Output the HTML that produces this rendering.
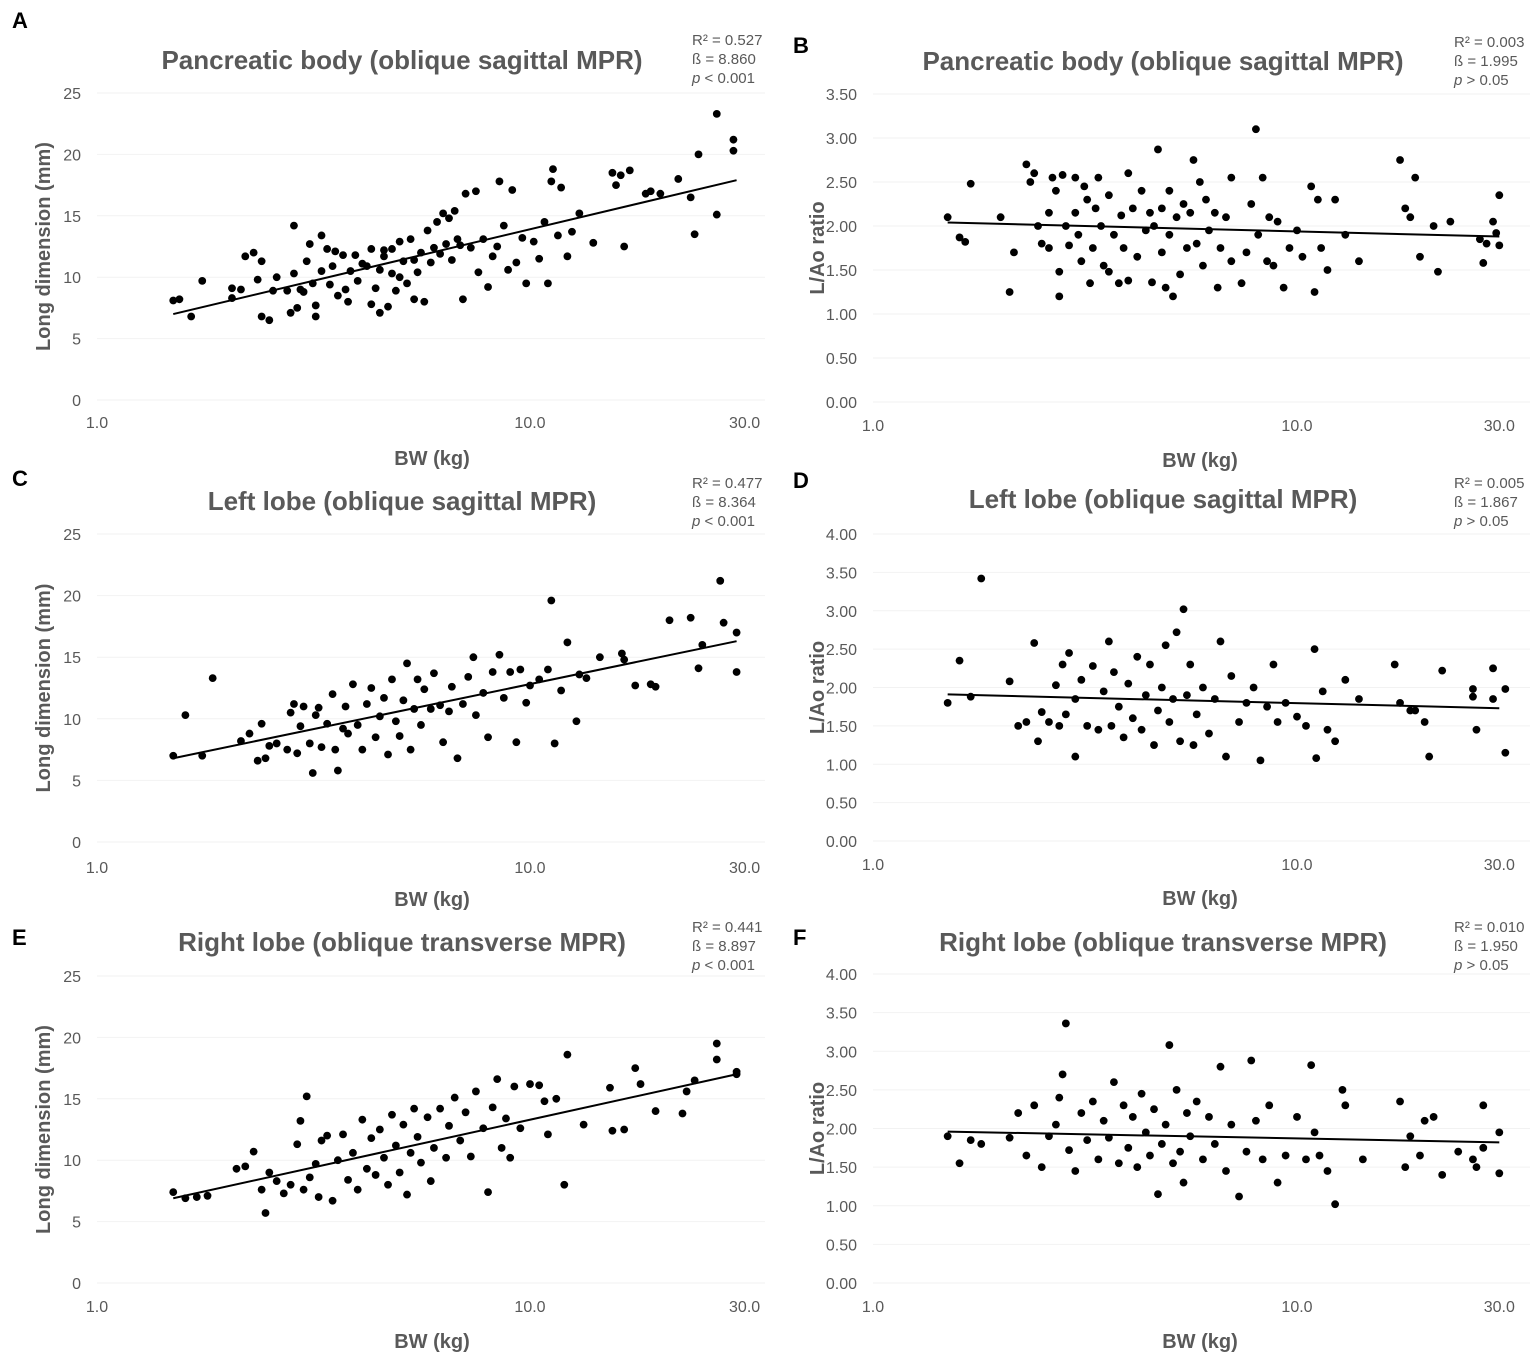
<!DOCTYPE html>
<html><head><meta charset="utf-8">
<style>
body{margin:0;background:#fff;}
svg{display:block;font-family:"Liberation Sans","Noto Sans CJK KR",sans-serif;}
</style></head>
<body>
<svg id="chart" width="1535" height="1359" viewBox="0 0 1535 1359" xmlns="http://www.w3.org/2000/svg"></svg>
<script>
const xTickValues=[1,10,30];
const xTickLabels=["1.0","10.0","30.0"];
const yTicksMM=[0,5,10,15,20,25];
const yTicksA=[0,0.5,1,1.5,2,2.5,3,3.5];
const yTicksB=[0,0.5,1,1.5,2,2.5,3,3.5,4];
const titles=["Pancreatic body (oblique sagittal MPR)","Pancreatic body (oblique sagittal MPR)","Left lobe (oblique sagittal MPR)","Left lobe (oblique sagittal MPR)","Right lobe (oblique transverse MPR)","Right lobe (oblique transverse MPR)"];
const statR2=["0.527","0.003","0.477","0.005","0.441","0.010"];
const statB=["8.860","1.995","8.364","1.867","8.897","1.950"];
const statP=["< 0.001","> 0.05","< 0.001","> 0.05","< 0.001","> 0.05"];
const trendStart=[7.0,2.04,6.8,1.91,6.9,1.96];
const trendEnd=[17.9,1.88,16.3,1.73,17.0,1.82];
const dataA=[[1.5,8.1],[1.55,8.2],[1.65,6.8],[1.75,9.7],[2.05,8.3],[2.05,9.1],[2.15,9],[2.2,11.7],[2.3,12],[2.35,9.8],[2.4,11.3],[2.4,6.8],[2.5,6.5],[2.55,8.9],[2.6,10],[2.75,8.9],[2.8,7.1],[2.85,14.2],[2.85,10.3],[2.9,7.5],[2.95,9],[3.0,8.8],[3.05,11.3],[3.1,12.7],[3.15,9.5],[3.2,7.7],[3.2,6.8],[3.3,13.4],[3.3,10.5],[3.4,12.3],[3.45,9.4],[3.5,10.9],[3.55,12.1],[3.6,8.5],[3.7,11.8],[3.75,9],[3.8,8],[3.85,10.5],[3.95,11.8],[4.0,9.7],[4.1,11.1],[4.2,10.9],[4.3,12.3],[4.3,7.8],[4.4,9.1],[4.5,7.1],[4.5,10.6],[4.6,11.7],[4.6,12.2],[4.7,7.6],[4.8,12.3],[4.8,10.3],[4.9,8.9],[5.0,12.9],[5.0,10],[5.1,11.3],[5.2,9.5],[5.3,13.1],[5.4,8.2],[5.4,11.4],[5.5,10.4],[5.6,12],[5.7,8],[5.8,13.8],[5.9,11.2],[6.0,12.4],[6.1,14.5],[6.2,11.9],[6.3,15.2],[6.4,12.7],[6.5,14.8],[6.6,11.4],[6.7,15.4],[6.8,13.1],[6.9,12.6],[7.0,8.2],[7.1,16.8],[7.3,12.4],[7.5,17.0],[7.6,10.4],[7.8,13.1],[8.0,9.2],[8.2,11.7],[8.4,12.5],[8.5,17.8],[8.7,14.2],[8.9,10.6],[9.1,17.1],[9.3,11.2],[9.6,13.2],[9.8,9.5],[10.2,12.9],[10.5,11.5],[10.8,14.5],[11,9.5],[11.2,17.8],[11.3,18.8],[11.6,13.4],[11.8,17.3],[12.2,11.7],[12.5,13.7],[13,15.2],[14,12.8],[15.5,18.5],[15.8,17.5],[16.2,18.3],[16.5,12.5],[17,18.7],[18.5,16.8],[19,17],[20,16.8],[22,18],[23.5,16.5],[24,13.5],[24.5,20],[27,23.3],[27,15.1],[29.5,21.2],[29.5,20.3]];
const dataB=[[1.5,2.1],[1.6,1.87],[1.65,1.82],[1.7,2.48],[2.0,2.1],[2.1,1.25],[2.15,1.7],[2.3,2.7],[2.35,2.5],[2.4,2.6],[2.45,2.0],[2.5,1.8],[2.6,1.75],[2.6,2.15],[2.65,2.55],[2.7,2.4],[2.75,1.48],[2.75,1.2],[2.8,2.58],[2.85,2.0],[2.9,1.78],[3.0,2.55],[3.0,2.15],[3.05,1.9],[3.1,1.6],[3.15,2.45],[3.2,2.3],[3.25,1.35],[3.3,1.75],[3.35,2.2],[3.4,2.55],[3.45,2.0],[3.5,1.55],[3.6,2.35],[3.6,1.48],[3.7,1.9],[3.8,1.35],[3.85,2.12],[3.9,1.75],[4.0,2.6],[4.0,1.38],[4.1,2.2],[4.2,1.65],[4.3,2.4],[4.4,1.95],[4.5,2.15],[4.55,1.36],[4.6,2.0],[4.7,2.87],[4.8,2.2],[4.8,1.7],[4.9,1.3],[5.0,2.4],[5.0,1.9],[5.1,1.2],[5.2,2.1],[5.3,1.45],[5.4,2.25],[5.5,1.75],[5.6,2.15],[5.7,2.75],[5.8,1.8],[5.9,2.5],[6.0,1.55],[6.1,2.3],[6.2,1.95],[6.4,2.15],[6.5,1.3],[6.6,1.75],[6.8,2.1],[7.0,2.55],[7.0,1.6],[7.4,1.35],[7.6,1.7],[7.8,2.25],[8.0,3.1],[8.1,1.9],[8.3,2.55],[8.5,1.6],[8.6,2.1],[8.8,1.55],[9.0,2.05],[9.3,1.3],[9.6,1.75],[10,1.95],[10.3,1.65],[10.8,2.45],[11,1.25],[11.2,2.3],[11.4,1.75],[11.8,1.5],[12.3,2.3],[13,1.9],[14,1.6],[17.5,2.75],[18,2.2],[18.5,2.1],[19,2.55],[19.5,1.65],[21,2.0],[21.5,1.48],[23,2.05],[27,1.85],[27.5,1.58],[28,1.8],[29,2.05],[29.5,1.92],[30,2.35],[30,1.78]];
const dataC=[[1.5,7],[1.6,10.3],[1.75,7],[1.85,13.3],[2.15,8.2],[2.25,8.8],[2.35,6.6],[2.4,9.6],[2.45,6.8],[2.5,7.8],[2.6,8],[2.75,7.5],[2.8,10.5],[2.85,11.2],[2.9,7.2],[2.95,9.4],[3.0,11],[3.1,8],[3.15,5.6],[3.2,10.3],[3.25,10.9],[3.3,7.7],[3.4,9.6],[3.5,12],[3.55,7.5],[3.6,5.8],[3.7,9.2],[3.75,11],[3.8,8.8],[3.9,12.8],[4.0,9.5],[4.1,7.5],[4.2,11.2],[4.3,12.5],[4.4,8.5],[4.5,10.2],[4.6,11.7],[4.7,7.1],[4.8,13.2],[4.9,9.8],[5.0,8.6],[5.1,11.5],[5.2,14.5],[5.3,7.5],[5.4,10.8],[5.5,13.2],[5.6,9.5],[5.7,12.4],[5.9,10.8],[6.0,13.7],[6.2,11.1],[6.3,8.1],[6.5,10.6],[6.6,12.6],[6.8,6.8],[7.0,11.2],[7.2,13.4],[7.4,15],[7.5,10.3],[7.8,12.1],[8.0,8.5],[8.2,13.8],[8.5,15.2],[8.7,11.7],[9.0,13.8],[9.3,8.1],[9.5,14],[9.8,11.3],[10,12.7],[10.5,13.2],[11,14],[11.2,19.6],[11.4,8],[11.8,12.3],[12.2,16.2],[12.8,9.8],[13,13.6],[13.5,13.3],[14.5,15],[16.3,15.3],[16.5,14.8],[17.5,12.7],[19,12.8],[19.5,12.6],[21,18],[23.5,18.2],[24.5,14.1],[25,16],[27.5,21.2],[28,17.8],[30,17],[30,13.8]];
const dataD=[[1.5,1.8],[1.6,2.35],[1.7,1.88],[1.8,3.42],[2.1,2.08],[2.2,1.5],[2.3,1.55],[2.4,2.58],[2.45,1.3],[2.5,1.68],[2.6,1.55],[2.7,2.03],[2.75,1.5],[2.8,2.3],[2.85,1.65],[2.9,2.45],[3.0,1.1],[3.0,1.85],[3.1,2.1],[3.2,1.5],[3.3,2.28],[3.4,1.45],[3.5,1.95],[3.6,2.6],[3.65,1.5],[3.7,2.2],[3.8,1.75],[3.9,1.35],[4.0,2.05],[4.1,1.6],[4.2,2.4],[4.3,1.45],[4.4,1.9],[4.5,2.3],[4.6,1.25],[4.7,1.7],[4.8,2.0],[4.9,2.55],[5.0,1.55],[5.1,1.85],[5.2,2.72],[5.3,1.3],[5.4,3.02],[5.5,1.9],[5.6,2.3],[5.7,1.25],[5.8,1.65],[6.0,2.0],[6.2,1.4],[6.4,1.85],[6.6,2.6],[6.8,1.1],[7.0,2.15],[7.3,1.55],[7.6,1.8],[7.9,2.0],[8.2,1.05],[8.5,1.75],[8.8,2.3],[9,1.55],[9.4,1.8],[10,1.62],[10.5,1.5],[11,2.5],[11.1,1.08],[11.5,1.95],[11.8,1.45],[12.3,1.3],[13,2.1],[14,1.85],[17,2.3],[17.5,1.8],[18.5,1.7],[19,1.7],[20,1.55],[20.5,1.1],[22,2.22],[26,1.98],[26,1.88],[26.5,1.45],[29,2.25],[29,1.85],[31,1.98],[31,1.15]];
const dataE=[[1.5,7.4],[1.6,6.9],[1.7,7],[1.8,7.1],[2.1,9.3],[2.2,9.5],[2.3,10.7],[2.4,7.6],[2.45,5.7],[2.5,9],[2.6,8.3],[2.7,7.3],[2.8,8],[2.9,11.3],[2.95,13.2],[3.0,7.6],[3.05,15.2],[3.1,8.6],[3.2,9.7],[3.25,7],[3.3,11.6],[3.4,12],[3.5,6.7],[3.6,10],[3.7,12.1],[3.8,8.4],[3.9,10.6],[4.0,7.6],[4.1,13.3],[4.2,9.3],[4.3,11.8],[4.4,8.8],[4.5,12.5],[4.6,10.2],[4.7,8],[4.8,13.7],[4.9,11.2],[5.0,9],[5.1,12.9],[5.2,7.2],[5.3,10.6],[5.4,14.2],[5.5,11.9],[5.6,9.8],[5.8,13.5],[5.9,8.3],[6.0,11],[6.2,14.2],[6.4,10.2],[6.5,12.8],[6.7,15.1],[6.9,11.6],[7.1,13.9],[7.3,10.3],[7.5,15.6],[7.8,12.6],[8.0,7.4],[8.2,14.3],[8.4,16.6],[8.6,11],[8.8,13.4],[9.0,10.2],[9.2,16],[9.5,12.6],[10,16.2],[10.5,16.1],[10.8,14.8],[11,12.1],[11.5,15],[12,8],[12.2,18.6],[13.3,12.9],[15.3,15.9],[15.5,12.4],[16.5,12.5],[17.5,17.5],[18,16.2],[19.5,14],[22.5,13.8],[23,15.6],[24,16.5],[27,19.5],[27,18.2],[30,17.2],[30,17]];
const dataF=[[1.5,1.9],[1.6,1.55],[1.7,1.85],[1.8,1.8],[2.1,1.88],[2.2,2.2],[2.3,1.65],[2.4,2.3],[2.5,1.5],[2.6,1.9],[2.7,2.05],[2.75,2.4],[2.8,2.7],[2.85,3.36],[2.9,1.72],[3.0,1.45],[3.1,2.2],[3.2,1.85],[3.3,2.35],[3.4,1.6],[3.5,2.1],[3.6,1.88],[3.7,2.6],[3.8,1.55],[3.9,2.3],[4.0,1.75],[4.1,2.15],[4.2,1.5],[4.3,2.45],[4.4,1.95],[4.5,1.65],[4.6,2.25],[4.7,1.15],[4.8,1.8],[4.9,2.05],[5.0,3.08],[5.1,1.55],[5.2,2.5],[5.3,1.7],[5.4,1.3],[5.5,2.2],[5.6,1.9],[5.8,2.35],[6.0,1.6],[6.2,2.15],[6.4,1.8],[6.6,2.8],[6.8,1.45],[7.0,2.05],[7.3,1.12],[7.6,1.7],[7.8,2.88],[8.0,2.1],[8.3,1.6],[8.6,2.3],[9,1.3],[9.4,1.65],[10,2.15],[10.5,1.6],[10.8,2.82],[11,1.95],[11.3,1.65],[11.8,1.45],[12.3,1.02],[12.8,2.5],[13,2.3],[14.3,1.6],[17.5,2.35],[18,1.5],[18.5,1.9],[19.5,1.65],[20,2.1],[21,2.15],[22,1.4],[24,1.7],[26,1.6],[26.5,1.5],[27.5,2.3],[27.5,1.75],[30,1.95],[30,1.42]];

const NS="http://www.w3.org/2000/svg";
const svg=document.getElementById('chart');
function mk(tag,attrs,parent){const e=document.createElementNS(NS,tag);for(const k in attrs)e.setAttribute(k,attrs[k]);(parent||svg).appendChild(e);return e;}

const panels=[
 {id:"a",letter:"A",lx:12,ly:28,x1:97,dec:433,xR:765,yTop:93,yBot:400,ymax:25,ticks:yTicksMM,fmt:0,ytitle:"Long dimension (mm)",data:dataA,tcx:402,tcy:69,sx:692,sy:45,xly:428,xtx:432,xty:465,ytx:50,t30:8},
 {id:"b",letter:"B",lx:793,ly:53,x1:873,dec:424,xR:1530,yTop:94,yBot:402,ymax:3.5,ticks:yTicksA,fmt:2,ytitle:"L/Ao ratio",data:dataB,tcx:1163,tcy:70,sx:1454,sy:47,xly:431,xtx:1200,xty:467,ytx:824,t30:0},
 {id:"c",letter:"C",lx:12,ly:486,x1:97,dec:433,xR:765,yTop:534,yBot:842,ymax:25,ticks:yTicksMM,fmt:0,ytitle:"Long dimension (mm)",data:dataC,tcx:402,tcy:510,sx:692,sy:488,xly:873,xtx:432,xty:906,ytx:50,t30:8},
 {id:"d",letter:"D",lx:793,ly:488,x1:873,dec:424,xR:1530,yTop:534,yBot:841,ymax:4,ticks:yTicksB,fmt:2,ytitle:"L/Ao ratio",data:dataD,tcx:1163,tcy:508,sx:1454,sy:488,xly:870,xtx:1200,xty:905,ytx:824,t30:0},
 {id:"e",letter:"E",lx:12,ly:945,x1:97,dec:433,xR:765,yTop:976,yBot:1283,ymax:25,ticks:yTicksMM,fmt:0,ytitle:"Long dimension (mm)",data:dataE,tcx:402,tcy:951,sx:692,sy:932,xly:1312,xtx:432,xty:1348,ytx:50,t30:8},
 {id:"f",letter:"F",lx:793,ly:945,x1:873,dec:424,xR:1530,yTop:974,yBot:1283,ymax:4,ticks:yTicksB,fmt:2,ytitle:"L/Ao ratio",data:dataF,tcx:1163,tcy:951,sx:1454,sy:932,xly:1312,xtx:1200,xty:1348,ytx:824,t30:0}
];

panels.forEach((p,i)=>{
 const g=mk('g',{});
 
 
 const xs=v=>p.x1+p.dec*Math.log10(v);
 const ys=v=>p.yBot-(p.yBot-p.yTop)*v/p.ymax;
 p.ticks.forEach(t=>{
  const ln=mk('line',{x1:p.x1,x2:p.xR,y1:ys(t),y2:ys(t),stroke:'#f2f2f2','stroke-width':1},g);
  
  
  const tx=mk('text',{x:p.x1-16,y:ys(t)+6,'text-anchor':'end','font-size':16,fill:'#595959'},g);
  
  
  tx.textContent=p.fmt?t.toFixed(2):String(t);
 });
 xTickValues.forEach((v,k)=>{
  const tx=mk('text',{x:xs(v)+(k==2?p.t30:0),y:p.xly,'text-anchor':'middle','font-size':16,fill:'#595959'},g);
  
  
  tx.textContent=xTickLabels[k];
 });
 p.data.forEach(d=>{
  const c=mk('circle',{cx:xs(d[0]),cy:ys(d[1]),r:3.9,fill:'#000'},g);
  
  
 });
 const tl=mk('line',{x1:xs(1.5),y1:ys(trendStart[i]),x2:xs(30),y2:ys(trendEnd[i]),stroke:'#000','stroke-width':2},g);
 
 
 const ti=mk('text',{x:p.tcx,y:p.tcy,'text-anchor':'middle','font-size':26,'font-weight':'bold',fill:'#595959'},g);
 
 
 ti.textContent=titles[i];
 const lt=mk('text',{x:p.lx,y:p.ly,'font-size':22,'font-weight':'bold',fill:'#000'},g);
 
 
 lt.textContent=p.letter;
 const xt=mk('text',{x:p.xtx,y:p.xty,'text-anchor':'middle','font-size':20,'font-weight':'bold',fill:'#595959'},g);
 
 
 xt.textContent="BW (kg)";
 const cy=(p.yTop+p.yBot)/2;
 const yt=mk('text',{x:p.ytx,y:cy,'text-anchor':'middle','font-size':20,'font-weight':'bold',fill:'#595959',transform:'rotate(-90 '+p.ytx+' '+cy+')'},g);
 
 
 yt.textContent=p.ytitle;
 const s1=mk('text',{x:p.sx,y:p.sy,'font-size':15,fill:'#595959'},g);
 
 
 s1.textContent="R\u00B2 = "+statR2[i];
 const s2=mk('text',{x:p.sx,y:p.sy+19,'font-size':15,fill:'#595959'},g);
 
 
 s2.textContent="\u00DF = "+statB[i];
 const s3=mk('text',{x:p.sx,y:p.sy+38,'font-size':15,fill:'#595959'},g);
 
 
 const it=mk('tspan',{'font-style':'italic'},s3);it.textContent="p";
 const rest=mk('tspan',{},s3);rest.textContent=" "+statP[i];
});
</script>
</body></html>
